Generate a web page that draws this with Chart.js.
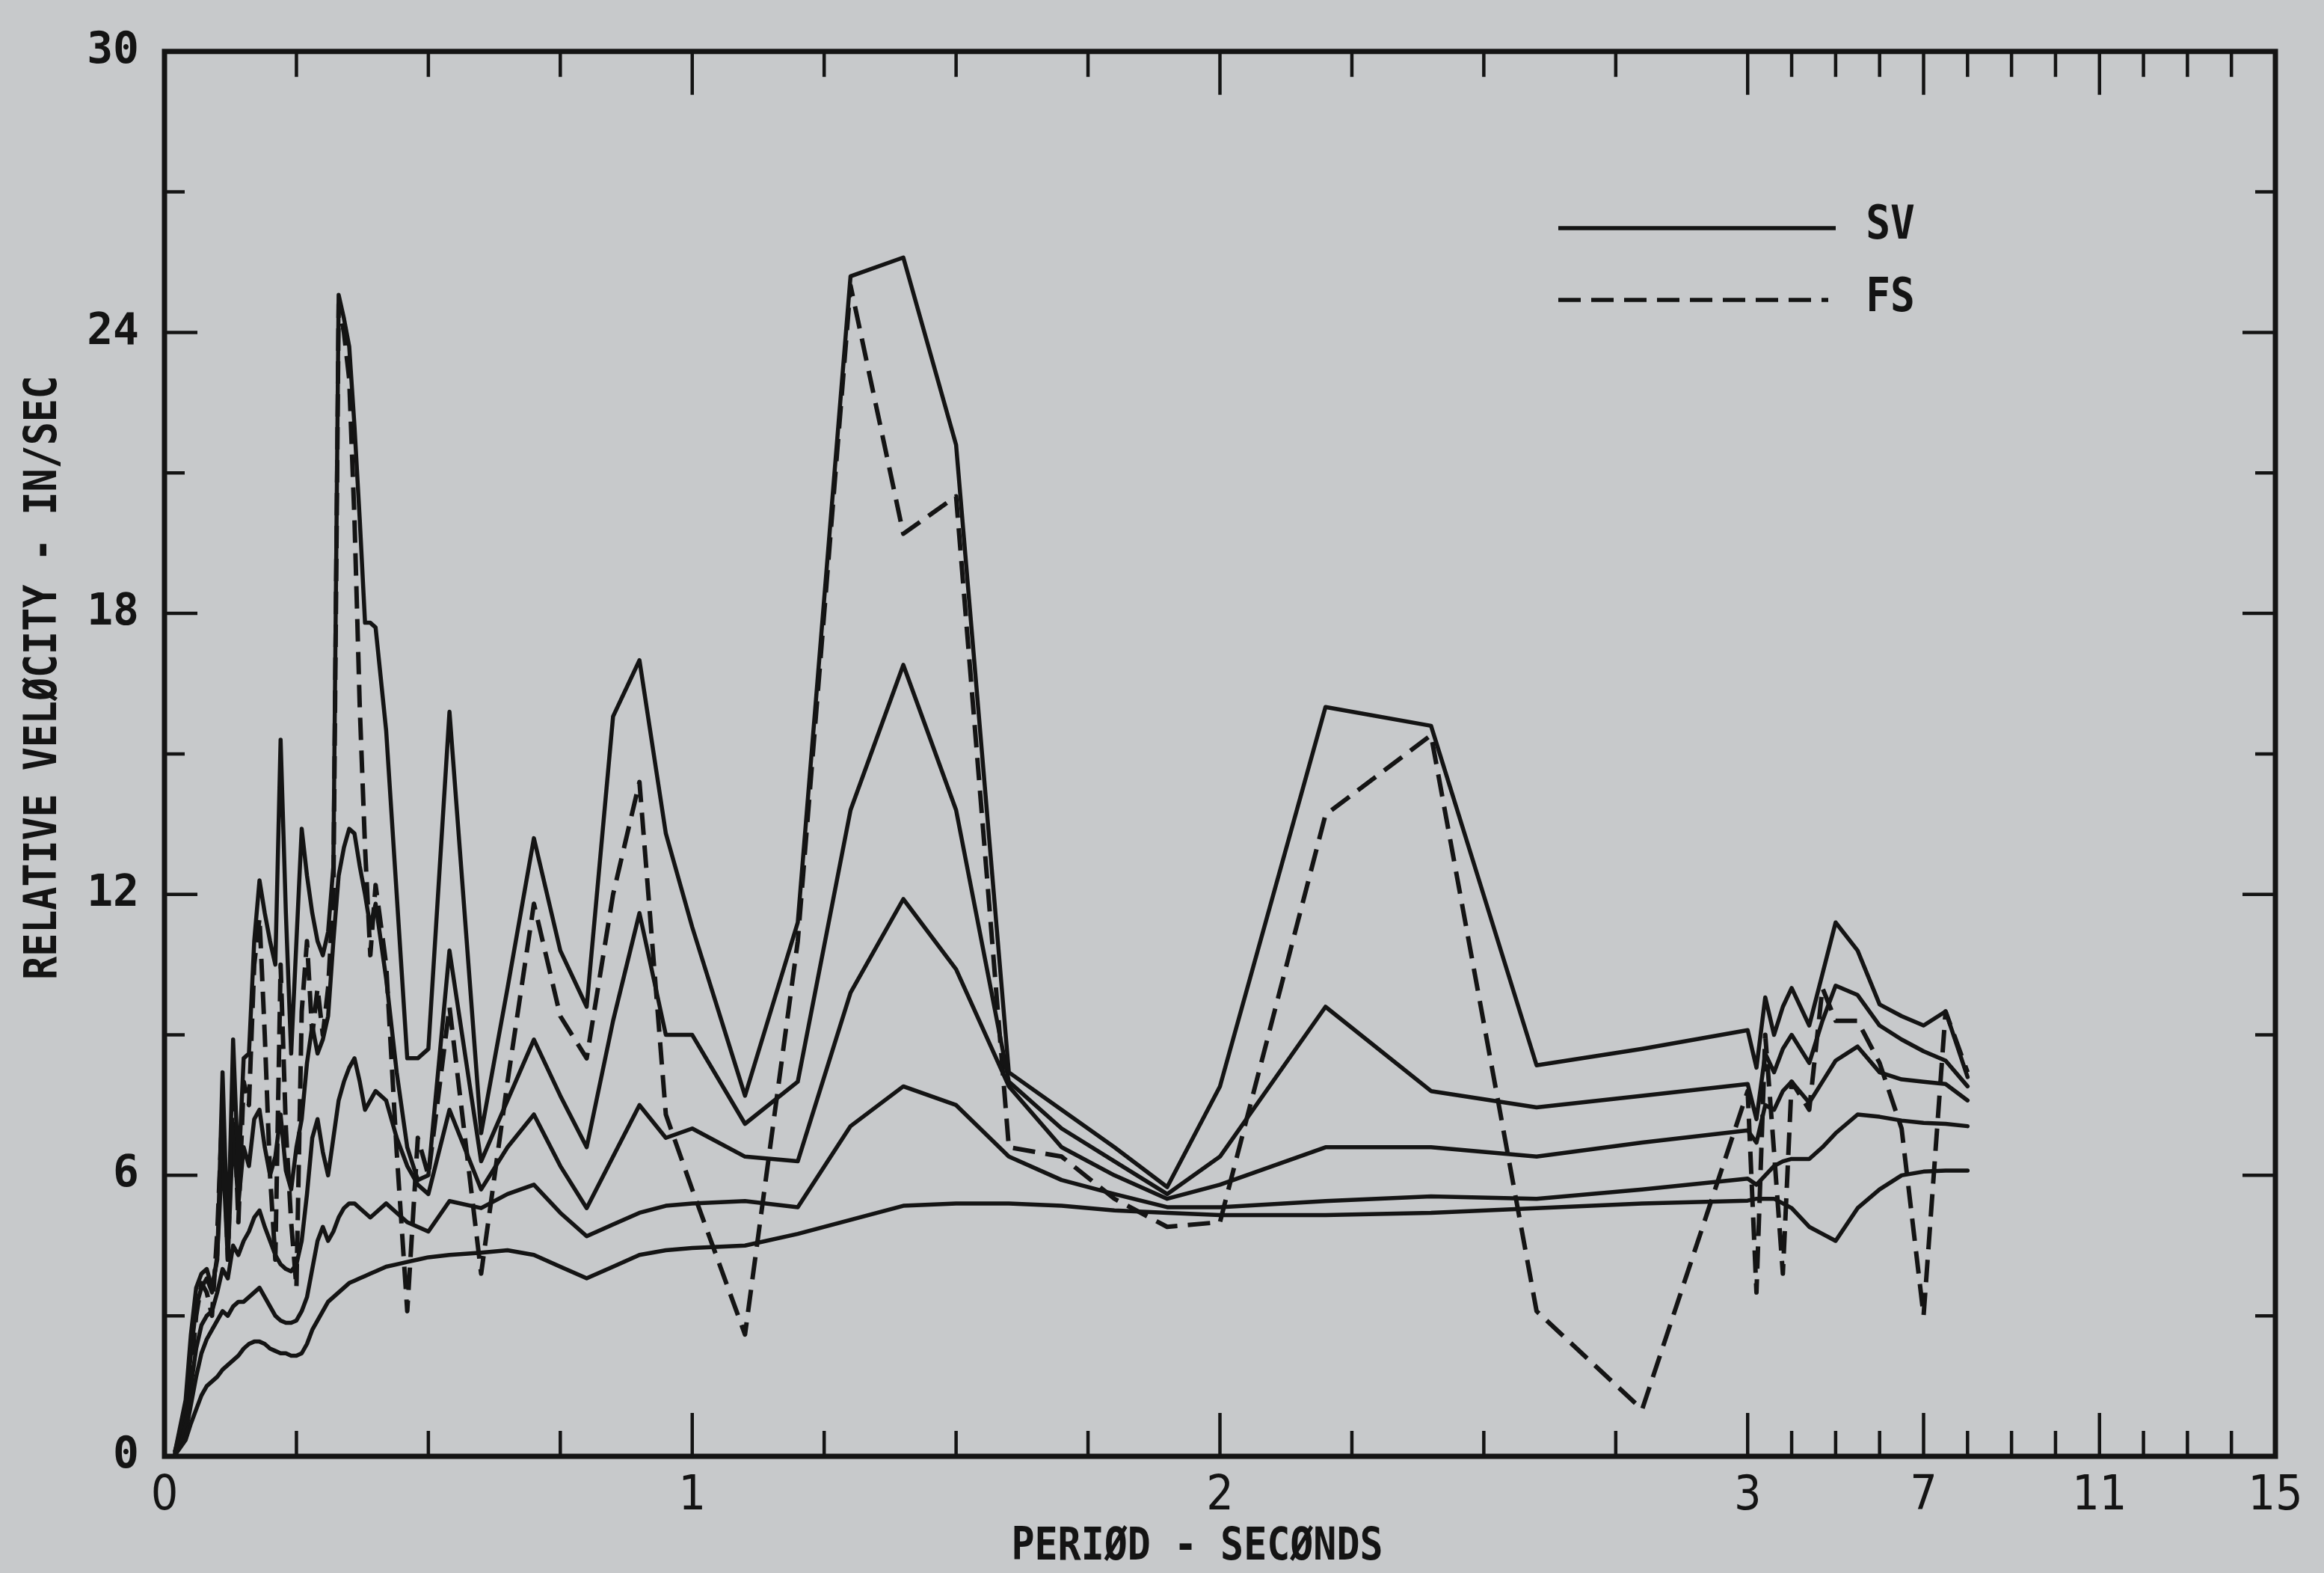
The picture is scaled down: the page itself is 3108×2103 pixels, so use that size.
<!DOCTYPE html>
<html>
<head>
<meta charset="utf-8">
<title>Relative velocity - SV and FS</title>
<script src="https://cdn.jsdelivr.net/npm/chart.js@4.4.0/dist/chart.umd.min.js"></script>
<style>
  html, body { margin: 0; padding: 0; background: #c7c9cb; }
  #wrap { width: 3108px; height: 2103px; }
</style>
</head>
<body>
<div id="wrap"><canvas id="chart"></canvas></div>
<script>
// Period (seconds) at which every curve was plotted
const periods = [
  0.02, 0.04, 0.05, 0.06, 0.07, 0.08, 0.09,
  0.10, 0.11, 0.12, 0.13, 0.14, 0.15, 0.16, 0.17, 0.18, 0.19,
  0.20, 0.21, 0.22, 0.23, 0.24, 0.25, 0.26, 0.27, 0.28, 0.29,
  0.30, 0.31, 0.32, 0.33, 0.34, 0.35, 0.36, 0.37, 0.38, 0.39,
  0.40, 0.42, 0.44, 0.46, 0.48, 0.50,
  0.54, 0.60, 0.65, 0.70, 0.75, 0.80, 0.85, 0.90, 0.95, 1.0,
  1.1, 1.2, 1.3, 1.4, 1.5, 1.6, 1.7, 1.8, 1.9, 2.0,
  2.2, 2.4, 2.6, 2.8, 3.0,
  3.2, 3.4, 3.6, 3.8, 4.0, 4.4, 4.7, 5.0, 5.5, 6.0, 6.5, 7.0, 7.5, 8.0
];

// SV curves (relative velocity, in/sec), highest to lowest
const sv1 = [
  0.1, 1.2, 2.6, 3.6, 3.9, 4.0, 3.6,
  4.2, 8.2, 4.5, 8.9, 6.0, 8.5, 8.6, 11.0, 12.3, 11.6,
  11.0, 10.5, 15.3, 11.6, 8.6, 11.0, 13.4, 12.4, 11.6, 11.0,
  10.7, 11.2, 12.6, 24.8, 24.3, 23.7, 22.0, 20.0, 17.8, 17.8,
  17.7, 15.5, 12.0, 8.5, 8.5, 8.7,
  15.9, 6.9, 10.0, 13.2, 10.8, 9.6, 15.8, 17.0, 13.3, 11.3,
  7.7, 11.4, 25.2, 25.6, 21.6, 8.2, 7.4, 6.6, 5.75, 7.9,
  16.0, 15.6, 8.35, 8.7, 9.1,
  8.3, 9.8, 9.0, 9.6, 10.0, 9.2, 10.3, 11.4, 10.8, 9.65, 9.4, 9.2, 9.5, 8.1
];
const sv2 = [
  0.1, 1.0, 2.2, 3.2, 3.6, 3.8, 3.5,
  4.3, 6.6, 4.2, 7.0, 5.4, 6.6, 6.2, 7.2, 7.4, 6.6,
  6.0, 6.4, 7.3, 6.1, 5.7, 6.6, 7.2, 8.4, 9.2, 8.6,
  8.9, 9.4, 11.0, 12.4, 13.0, 13.4, 13.3, 12.6, 12.0, 11.3,
  11.8, 10.2, 8.2, 6.6, 5.9, 6.0,
  10.8, 6.3, 7.6, 8.9, 7.7, 6.6, 9.3, 11.6, 9.0, 9.0,
  7.1, 8.0, 13.8, 16.9, 13.8, 8.0, 7.0, 6.3, 5.6, 6.4,
  9.6, 7.8, 7.45, 7.7, 7.95,
  7.2, 8.6, 8.2, 8.7, 9.0, 8.4, 9.3, 10.05, 9.85, 9.2, 8.9, 8.65, 8.45, 7.9
];
const sv3 = [
  0.05, 0.7, 1.5, 2.3, 2.8, 3.0, 3.1,
  3.5, 4.0, 3.8, 4.5, 4.3, 4.6, 4.8, 5.1, 5.25, 4.9,
  4.6, 4.3, 4.1, 4.0, 3.95, 4.1, 4.6, 5.6, 6.8, 7.2,
  6.5, 6.0, 6.8, 7.6, 8.0, 8.3, 8.5, 8.0, 7.4, 7.6,
  7.8, 7.6, 6.8, 6.2, 5.8, 5.6,
  7.4, 5.7, 6.6, 7.3, 6.2, 5.3, 6.4, 7.5, 6.8, 7.0,
  6.4, 6.3, 9.9, 11.9, 10.4, 7.9, 6.6, 6.0, 5.5, 5.8,
  6.6, 6.6, 6.4, 6.7, 6.96,
  6.7, 7.5, 7.4, 7.8, 8.0, 7.55, 8.0, 8.45, 8.75, 8.2, 8.05, 8.0, 7.95, 7.6
];
const sv4 = [
  0.05, 0.5, 1.1, 1.7, 2.2, 2.5, 2.7,
  2.9, 3.1, 3.0, 3.2, 3.3, 3.3, 3.4, 3.5, 3.6, 3.4,
  3.2, 3.0, 2.9, 2.85, 2.85, 2.9, 3.1, 3.4, 4.0, 4.6,
  4.9, 4.6, 4.8, 5.1, 5.3, 5.4, 5.4, 5.3, 5.2, 5.1,
  5.2, 5.4, 5.2, 5.0, 4.9, 4.8,
  5.45, 5.3, 5.6, 5.8, 5.2, 4.7, 4.95, 5.2, 5.35, 5.4,
  5.45, 5.32, 7.05, 7.9, 7.5, 6.4, 5.9, 5.6, 5.32, 5.32,
  5.45, 5.55, 5.5, 5.7, 5.93,
  5.8, 6.0, 6.2, 6.3, 6.35, 6.35, 6.6, 6.9, 7.3, 7.25, 7.17, 7.12, 7.1, 7.05
];
const sv5 = [
  0.03, 0.35, 0.7, 1.0, 1.3, 1.5, 1.6,
  1.7, 1.85, 1.95, 2.05, 2.15, 2.3, 2.4, 2.45, 2.45, 2.4,
  2.3, 2.25, 2.2, 2.2, 2.15, 2.15, 2.2, 2.4, 2.7, 2.9,
  3.1, 3.3, 3.4, 3.5, 3.6, 3.7, 3.75, 3.8, 3.85, 3.9,
  3.95, 4.05, 4.1, 4.15, 4.2, 4.25,
  4.3, 4.35, 4.4, 4.3, 4.05, 3.8, 4.05, 4.3, 4.4, 4.45,
  4.5, 4.75, 5.05, 5.35, 5.4, 5.4, 5.35, 5.25, 5.2, 5.15,
  5.15, 5.2, 5.3, 5.4, 5.46,
  5.5, 5.5, 5.5, 5.4, 5.3, 4.9, 4.75, 4.6, 5.3, 5.7, 6.0, 6.08, 6.1, 6.1
];

// FS curve (dashed)
const fs = [
  0.1, 0.8, 1.8, 3.0, 3.7, 3.5, 3.0,
  4.8, 7.5, 4.2, 8.0, 5.0, 8.0, 7.5, 10.5, 11.5, 9.0,
  6.0, 4.2, 10.5, 7.0, 5.0, 3.6, 9.5, 11.0, 9.0, 10.0,
  9.0, 10.0, 12.0, 24.6, 24.0, 23.0, 20.0, 16.0, 13.0, 10.7,
  12.2, 10.5, 6.5, 3.1, 6.8, 6.0,
  9.6, 3.9, 8.0, 11.8, 9.4, 8.5, 12.0, 14.4, 7.3, 5.7,
  2.6, 11.0, 25.0, 19.7, 20.5, 6.6, 6.4, 5.5, 4.9, 5.0,
  13.7, 15.4, 3.1, 1.0, 7.8,
  3.5, 9.0, 6.5, 3.9, 8.0, 7.4, 10.0, 9.3, 9.3, 8.4, 7.0, 3.0, 9.5, 8.2
];

// Axis ticks (periods in seconds, velocity in in/sec)
const xLabelPeriods = [0, 1, 2, 3, 7, 11, 15];
const xMinorPeriods = [0.25, 0.5, 0.75, 1.25, 1.5, 1.75, 2.25, 2.5, 2.75, 4, 5, 6, 8, 9, 10, 12, 13, 14];
const yMajorTicks = [6, 12, 18, 24];
const yMinorTicks = [3, 9, 15, 21, 27];

const INK = '#141414';
const PAPER = '#c7c9cb';
const MONO = "'DejaVu Sans Mono', 'Liberation Mono', monospace";

// the period axis is linear up to 3 s, then squeezed 12:1 out to 15 s
function toAxis(p) {
  return p <= 3 ? p : 3 + (p - 3) / 12;
}

function points(values) {
  return periods.map((p, i) => ({ x: toAxis(p), y: values[i] }));
}

function drawText(ctx, text, cx, cy, size, squeeze, rotate) {
  ctx.save();
  ctx.translate(cx, cy);
  if (rotate) ctx.rotate(-Math.PI / 2);
  ctx.scale(squeeze, 1);
  ctx.font = 'bold ' + size + 'px ' + MONO;
  ctx.textAlign = 'center';
  ctx.textBaseline = 'middle';
  ctx.fillStyle = INK;
  ctx.fillText(text, 0, 0);
  ctx.restore();
}

const paperPlugin = {
  id: 'paper',
  beforeDraw(chart) {
    const ctx = chart.ctx;
    ctx.save();
    ctx.fillStyle = PAPER;
    ctx.fillRect(0, 0, chart.width, chart.height);
    ctx.restore();
  }
};

// frame, inward tick marks, legend and axis titles
const framePlugin = {
  id: 'frame',
  afterDatasetsDraw(chart) {
    const { ctx, chartArea: a, scales: { x, y } } = chart;
    ctx.save();
    ctx.strokeStyle = INK;
    ctx.lineCap = 'butt';
    ctx.lineWidth = 4.5;

    const xTick = (p, len) => {
      const px = x.getPixelForValue(toAxis(p));
      ctx.beginPath();
      ctx.moveTo(px, a.bottom);
      ctx.lineTo(px, a.bottom - len);
      ctx.moveTo(px, a.top);
      ctx.lineTo(px, a.top + len);
      ctx.stroke();
    };
    xLabelPeriods.forEach(p => xTick(p, 58));
    xMinorPeriods.forEach(p => xTick(p, 34));

    const yTick = (v, len) => {
      const py = y.getPixelForValue(v);
      ctx.beginPath();
      ctx.moveTo(a.left, py);
      ctx.lineTo(a.left + len, py);
      ctx.moveTo(a.right, py);
      ctx.lineTo(a.right - len, py);
      ctx.stroke();
    };
    yMajorTicks.forEach(v => yTick(v, 44));
    yMinorTicks.forEach(v => yTick(v, 27));

    ctx.lineWidth = 7;
    ctx.strokeRect(a.left, a.top, a.right - a.left, a.bottom - a.top);

    // legend
    ctx.lineWidth = 5.5;
    ctx.beginPath();
    ctx.moveTo(2084, 305);
    ctx.lineTo(2455, 305);
    ctx.stroke();
    ctx.setLineDash([30, 14]);
    ctx.beginPath();
    ctx.moveTo(2084, 401);
    ctx.lineTo(2445, 401);
    ctx.stroke();
    ctx.setLineDash([]);
    drawText(ctx, 'SV', 2528, 303, 62, 0.88, false);
    drawText(ctx, 'FS', 2528, 400, 62, 0.88, false);

    // axis titles
    drawText(ctx, 'PERIØD - SECØNDS', 1601, 2069, 60, 0.86, false);
    drawText(ctx, 'RELATIVE VELØCITY - IN/SEC', 59, 906, 60, 0.86, true);
    ctx.restore();
  }
};

const lineStyle = {
  borderColor: INK,
  borderWidth: 5.5,
  pointRadius: 0,
  tension: 0,
  fill: false,
  borderJoinStyle: 'round',
  borderCapStyle: 'round'
};

new Chart(document.getElementById('chart'), {
  type: 'line',
  data: {
    datasets: [
      Object.assign({ label: 'SV', data: points(sv1) }, lineStyle),
      Object.assign({ label: 'SV', data: points(sv2) }, lineStyle),
      Object.assign({ label: 'SV', data: points(sv3) }, lineStyle),
      Object.assign({ label: 'SV', data: points(sv4) }, lineStyle),
      Object.assign({ label: 'SV', data: points(sv5) }, lineStyle),
      Object.assign({}, lineStyle, {
        label: 'FS', data: points(fs), borderWidth: 6,
        borderDash: [30, 14], borderCapStyle: 'butt'
      })
    ]
  },
  options: {
    responsive: true,
    maintainAspectRatio: false,
    devicePixelRatio: 1,
    animation: false,
    layout: { padding: { top: 34, right: 65, left: 0, bottom: 0 } },
    plugins: { legend: { display: false }, tooltip: { enabled: false } },
    scales: {
      x: {
        type: 'linear',
        min: 0,
        max: 4,
        afterFit: s => { s.height = 156; },
        afterBuildTicks: s => {
          s.ticks = xLabelPeriods.map(p => ({ value: toAxis(p) }));
        },
        grid: { display: false, drawTicks: false },
        border: { display: false },
        ticks: {
          autoSkip: false,
          maxRotation: 0,
          padding: 16,
          color: INK,
          font: { family: "'Liberation Sans Narrow', 'DejaVu Sans Condensed', 'DejaVu Sans', sans-serif", size: 64 },
          callback: (value, i) => String(xLabelPeriods[i])
        }
      },
      y: {
        type: 'linear',
        min: 0,
        max: 30,
        afterFit: s => { s.width = 220; },
        grid: { display: false, drawTicks: false },
        border: { display: false },
        ticks: {
          stepSize: 6,
          padding: 34,
          color: INK,
          font: { family: MONO, size: 58, weight: 'bold' }
        }
      }
    }
  },
  plugins: [paperPlugin, framePlugin]
});
</script>
</body>
</html>
